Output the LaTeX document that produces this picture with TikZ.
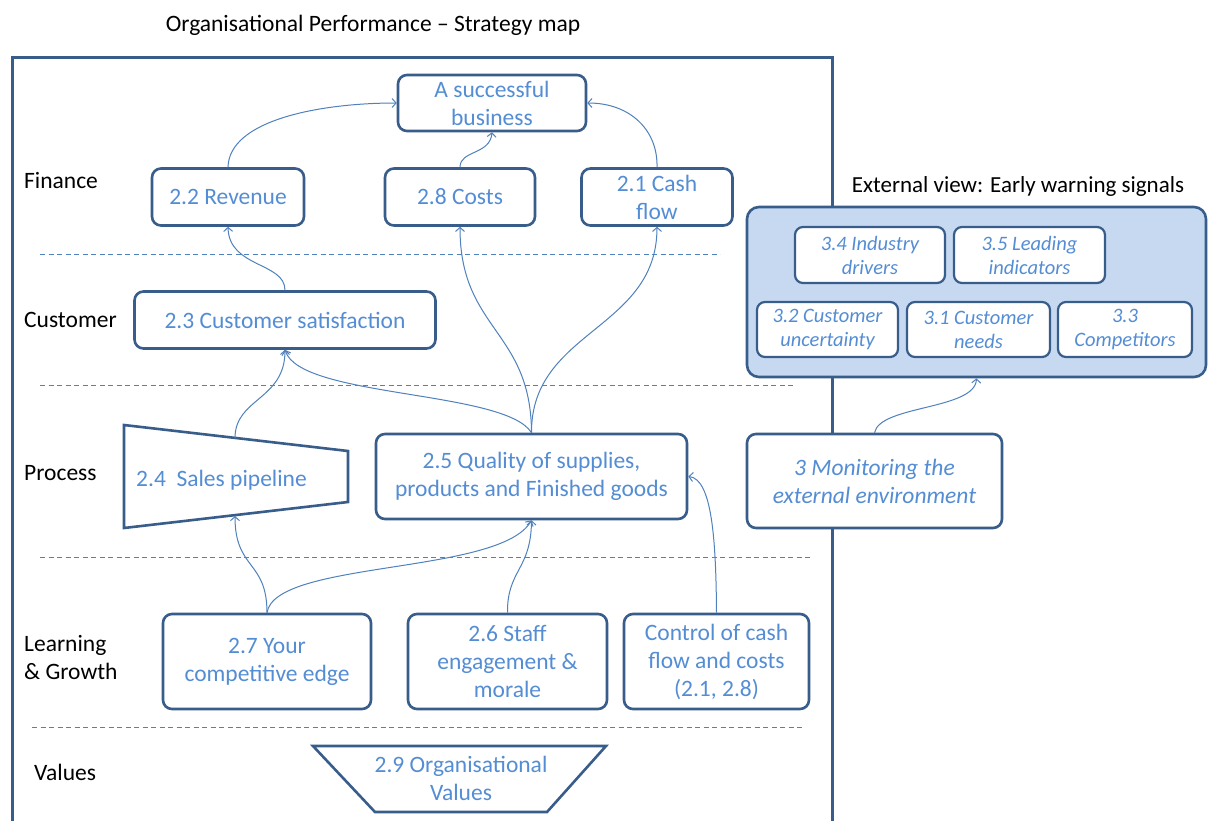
\documentclass[tikz,border=0pt]{standalone}
\usepackage{fontspec}
\setmainfont{Carlito}
\usetikzlibrary{arrows.meta}
\definecolor{bord}{RGB}{56,93,138}
\definecolor{txtb}{RGB}{84,141,212}
\definecolor{conncol}{RGB}{79,129,189}
\definecolor{boxfill}{RGB}{198,217,241}
\begin{document}
\begin{tikzpicture}[x=1pt,y=-1pt,
  box/.style={draw=bord, line width=2.6pt, rounded corners=9pt, fill=white, text=txtb,
    font=\fontsize{23.5}{28}\selectfont, align=center, inner sep=0pt},
  extbox/.style={box, line width=2.2pt, rounded corners=8pt, font=\fontsize{20.5}{24}\selectfont\itshape},
  lab/.style={anchor=west, font=\fontsize{23.5}{28}\selectfont, align=left, inner sep=0pt},
  shapeline/.style={draw=bord, line width=2.6pt, line join=miter},
  conn/.style={draw=conncol, line width=1pt, -{Straight Barb[length=4pt,width=9pt]}},
  sepline/.style={draw=conncol, line width=1pt, dash pattern=on 5pt off 3.5pt}]
\useasboundingbox (0,0) rectangle (1208,820);
\fill[white] (0,0) rectangle (1208,820);

% title and outer frame
\node[font=\fontsize{23.5}{28}\selectfont, inner sep=0pt] (title) at (373,25) {Organisational Performance – Strategy map};
\draw[bord, line width=3pt] (12,840) -- (12,57) -- (832,57) -- (832,840);

% dashed separators
\draw[sepline] (40,254) -- (720,254);
\draw[sepline] (40,385) -- (795,385);
\draw[sepline] (40,557) -- (812,557);
\draw[sepline] (32,727) -- (805,727);

% row labels
\node[lab] (lfin) at (24,180) {Finance};
\node[lab] (lcus) at (24,320) {Customer};
\node[lab] (lpro) at (24,473) {Process};
\node[lab] (llg) at (24,657) {Learning\\\& Growth};
\node[lab] (lval) at (34,772) {Values};

% finance
\node[box, minimum width=188pt, minimum height=56pt] (succ) at (492,103) {A successful\\business};
\node[box, minimum width=152pt, minimum height=57pt] (rev) at (228,197) {2.2 Revenue};
\node[box, minimum width=150pt, minimum height=57pt] (costs) at (460,197) {2.8 Costs};
\node[box, minimum width=151pt, minimum height=57pt] (cash) at (657,197) {2.1 Cash\\flow};

% customer
\node[box, minimum width=301pt, minimum height=57pt] (sat) at (285,320) {2.3 Customer satisfaction};

% process
\draw[shapeline] (124,425) coordinate (spa) -- (348,451) coordinate (spb) -- (348,502) coordinate (spc) -- (124,528) coordinate (spd) -- cycle;
\node[anchor=west, text=txtb, font=\fontsize{23.5}{28}\selectfont, inner sep=0pt] (sp) at (136,480) {2.4\ \ Sales pipeline};
\coordinate (sptop) at (235,438);
\coordinate (spbot) at (235,516);
\node[box, minimum width=311pt, minimum height=85pt] (qual) at (531.5,476.5) {2.5 Quality of supplies,\\products and Finished goods};

% learning & growth
\node[box, minimum width=208pt, minimum height=95pt] (edge) at (267,661.5) {2.7 Your\\competitive edge};
\node[box, minimum width=199pt, minimum height=95pt] (staff) at (507.5,661.5) {2.6 Staff\\engagement \&\\morale};
\node[box, minimum width=185pt, minimum height=95pt] (ctrl) at (716.5,661.5) {Control of cash\\flow and costs\\(2.1, 2.8)};

% values
\draw[shapeline] (313,746) coordinate (va) -- (606,746) coordinate (vb) -- (547,812) coordinate (vc) -- (375,812) coordinate (vd) -- cycle;
\node[text=txtb, font=\fontsize{23.5}{28}\selectfont, align=center, inner sep=0pt] (vals) at (461,778) {2.9 Organisational\\Values};

% external view
\node[font=\fontsize{23}{28}\selectfont, inner sep=0pt] (exttitle) at (1018,186) {External view: Early warning signals};
\node[draw=bord, line width=2.6pt, fill=boxfill, rounded corners=12pt, minimum width=459pt, minimum height=170pt, inner sep=0pt] (ext) at (976.5,292) {};
\node[extbox, minimum width=150pt, minimum height=56pt] (ind) at (870,255) {3.4 Industry\\drivers};
\node[extbox, minimum width=151pt, minimum height=56pt] (lead) at (1029.5,255) {3.5 Leading\\indicators};
\node[extbox, minimum width=141pt, minimum height=55pt] (unc) at (827.5,329.5) {3.2 Customer\\uncertainty};
\node[extbox, minimum width=143pt, minimum height=55pt] (need) at (978.5,329.5) {3.1 Customer\\needs};
\node[extbox, minimum width=134pt, minimum height=55pt] (comp) at (1125,329.5) {3.3\\Competitors};
\node[box, minimum width=255pt, minimum height=94pt, font=\fontsize{23.5}{28}\selectfont\itshape] (mon) at (874.5,481) {3 Monitoring the\\external environment};

% connectors
\draw[conn] (rev.north) .. controls (229,120) and (320,103) .. (succ.west);
\draw[conn] (costs.north) .. controls (460,150) and (490,155) .. (succ.south);
\draw[conn] (cash.north) .. controls (658,130) and (630,103) .. (succ.east);
\draw[conn] (sat.north) .. controls (285,262) and (229,268) .. (rev.south);
\draw[conn] (sptop) .. controls (235,398) and (285,400) .. (sat.south);
\draw[conn] (qual.north) .. controls (505,390) and (300,398) .. (sat.south);
\draw[conn] (qual.north) .. controls (531,330) and (460,330) .. (costs.south);
\draw[conn] (qual.north) .. controls (531,330) and (657,330) .. (cash.south);
\draw[conn] (edge.north) .. controls (267,560) and (235,570) .. (spbot);
\draw[conn] (edge.north) .. controls (275,560) and (500,575) .. (qual.south);
\draw[conn] (staff.north) .. controls (507,570) and (531,570) .. (qual.south);
\draw[conn] (ctrl.north) .. controls (716,540) and (712,479) .. (qual.east);
\draw[conn] (mon.north) .. controls (880,405) and (975,410) .. (ext.south);
\end{tikzpicture}
\end{document}
